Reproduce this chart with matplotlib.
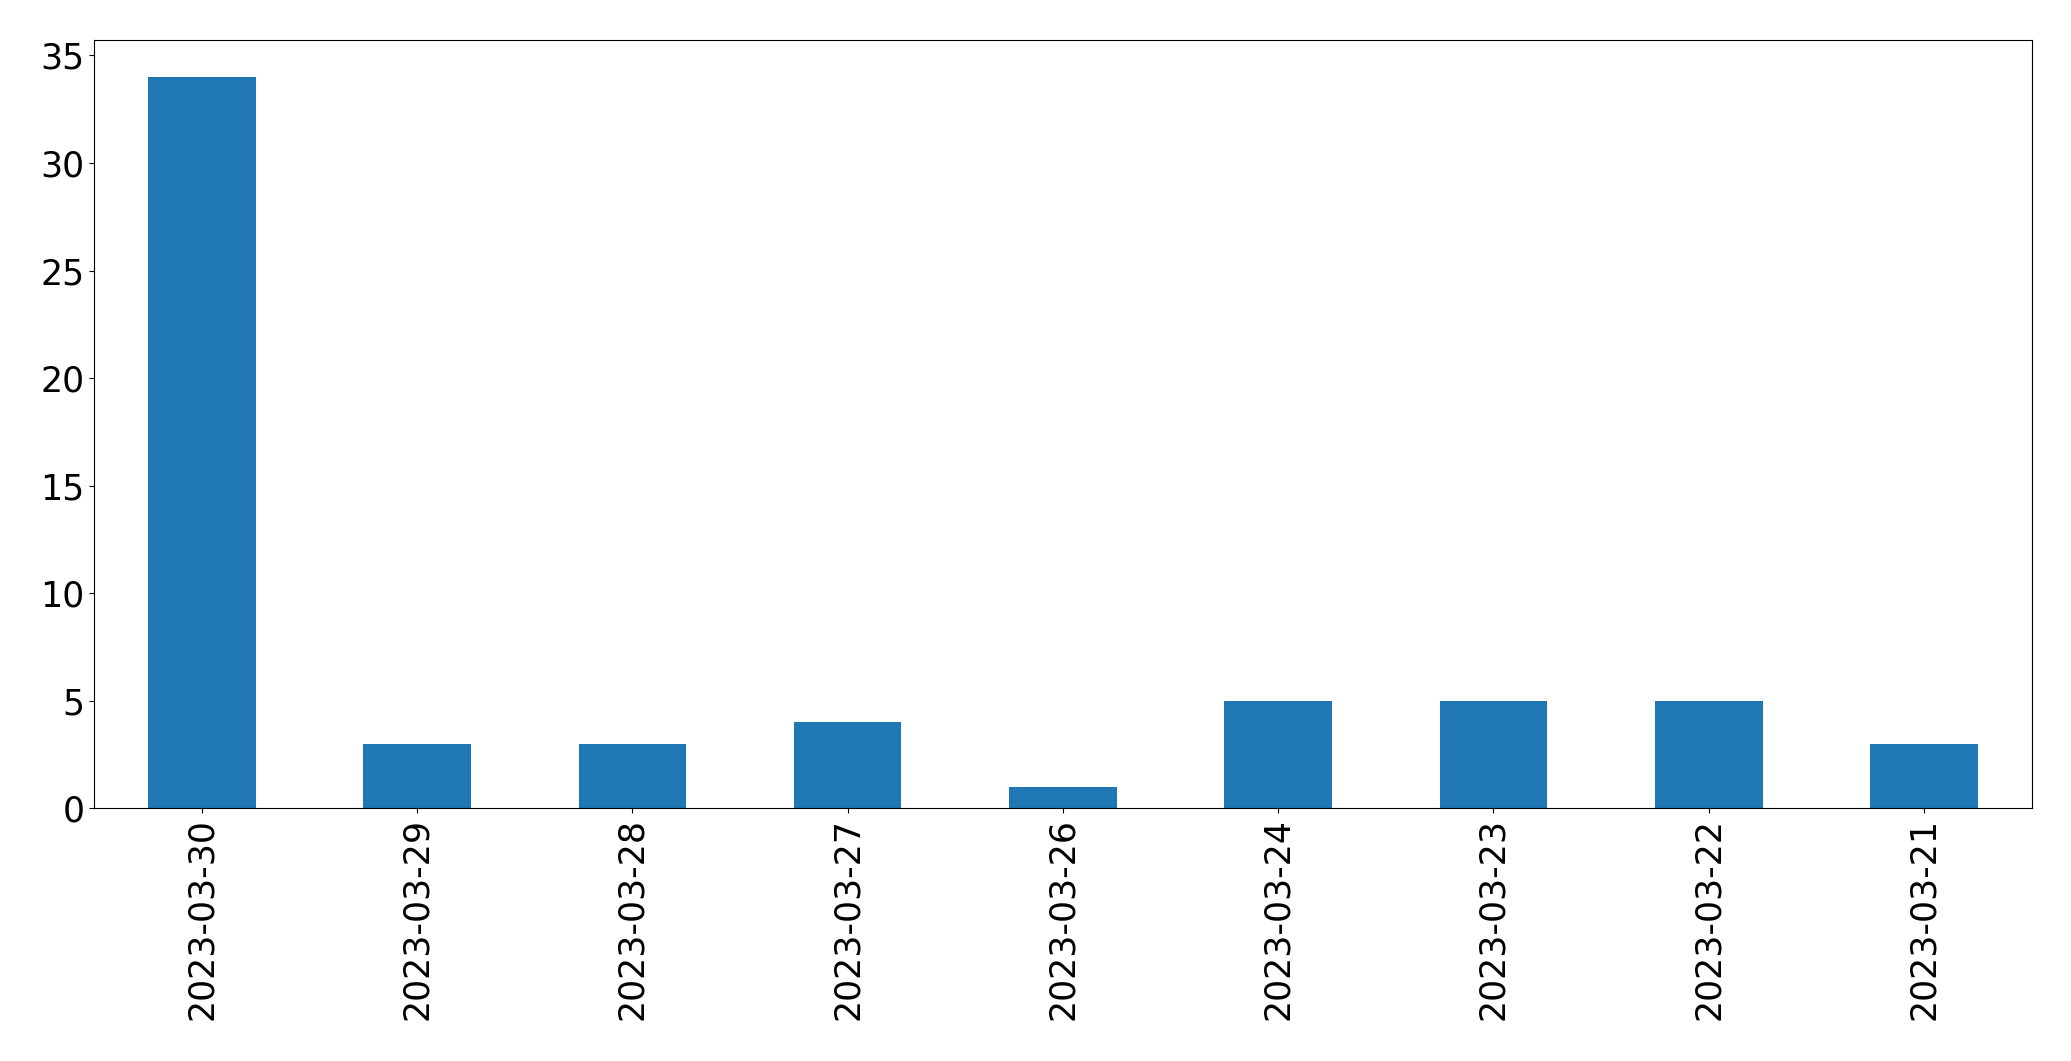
import matplotlib
matplotlib.use("Agg")
import matplotlib.pyplot as plt
import pandas as pd

dates = ["2023-03-30", "2023-03-29", "2023-03-28", "2023-03-27", "2023-03-26",
         "2023-03-24", "2023-03-23", "2023-03-22", "2023-03-21"]
counts = [34, 3, 3, 4, 1, 5, 5, 5, 3]

plt.rcParams['font.size'] = 25

s = pd.Series(counts, index=dates)
fig = plt.figure(figsize=(20.71, 10.61), dpi=100)
ax = fig.add_subplot(111)
s.plot(kind='bar', ax=ax, color='#1f77b4')
ax.tick_params(labelsize=25)
fig.subplots_adjust(left=0.0455, right=0.981, top=0.962, bottom=0.238)
fig.savefig('out.png', dpi=100)
